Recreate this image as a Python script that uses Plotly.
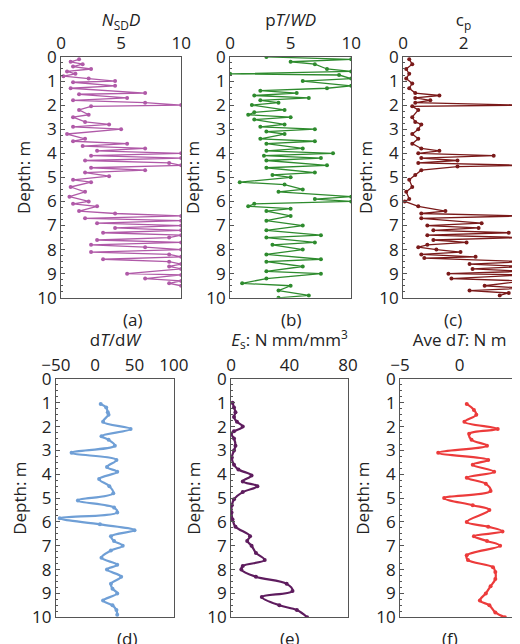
import plotly.graph_objects as go
from plotly.subplots import make_subplots

# (a) NSD D
a_depth = [0.1, 0.2, 0.3, 0.4, 0.5, 0.6, 0.7, 0.8, 0.9, 1.0, 1.05, 1.2, 1.3, 1.5, 1.55, 1.7, 1.8, 1.9, 2.0, 2.05,
           2.2, 2.4, 2.5, 2.7, 2.8, 2.9, 3.0, 3.2, 3.4, 3.5, 3.6, 3.7, 3.8, 3.9, 4.0, 4.1, 4.2, 4.3, 4.4, 4.5,
           4.6, 4.7, 4.8, 4.95, 5.1, 5.2, 5.4, 5.6, 5.8, 6.0, 6.1, 6.2, 6.4, 6.5, 6.6, 6.7, 6.8, 6.9, 7.0, 7.1,
           7.2, 7.3, 7.4, 7.5, 7.6, 7.7, 7.8, 7.9, 8.0, 8.1, 8.2, 8.3, 8.4, 8.5, 8.6, 8.7, 8.8, 9.0, 9.05, 9.2,
           9.3, 9.4, 9.5]
a_val = [1.5, 0.8, 1.8, 1.0, 2.5, 0.5, 1.2, 0.2, 2.3, 4.5, 1.0, 4.5, 0.8, 7.0, 1.5, 5.5, 1.0, 7.0, 10, 2.5,
         1.5, 2.3, 1.0, 2.0, 4.0, 1.0, 5.0, 0.5, 2.0, 1.0, 5.5, 1.8, 7.0, 3.0, 10, 2.5, 10, 2.0, 9.0, 10,
         2.5, 7.0, 2.0, 4.0, 1.0, 2.5, 0.8, 2.0, 0.7, 2.3, 1.0, 3.0, 1.5, 4.5, 10, 2.0, 10, 3.0, 10, 4.5,
         10, 3.5, 10, 9.0, 3.0, 10, 2.5, 7.0, 10, 2.5, 9.0, 10, 3.5, 9.0, 10, 9.0, 10, 5.5, 10, 7.0,
         10, 9.0, 10]

# (b) pT/WD
b_depth = [0.0, 0.1, 0.2, 0.3, 0.5, 0.6, 0.7, 0.75, 0.9, 1.0, 1.2, 1.3, 1.4, 1.5, 1.6, 1.7, 1.8, 1.9, 2.0, 2.2,
           2.3, 2.4, 2.5, 2.6, 2.8, 2.9, 3.0, 3.1, 3.2, 3.4, 3.5, 3.6, 3.8, 3.9, 4.0, 4.1, 4.2, 4.3, 4.5, 4.6,
           4.8, 4.9, 5.0, 5.2, 5.3, 5.5, 5.6, 5.8, 5.9, 6.0, 6.1, 6.2, 6.3, 6.4, 6.6, 6.8, 7.0, 7.2, 7.4, 7.5,
           7.7, 7.8, 8.0, 8.2, 8.4, 8.5, 8.7, 8.9, 9.0, 9.2, 9.4, 9.5, 9.7, 9.9, 10.0]
b_val = [3.0, 10, 5.0, 7.0, 8.0, 10, 0.0, 9.0, 10, 6.0, 10, 8.0, 2.5, 5.5, 2.0, 6.5, 2.5, 4.0, 1.8, 4.5,
         2.0, 1.5, 5.0, 2.0, 4.5, 2.5, 7.0, 3.0, 4.5, 2.5, 7.0, 3.0, 6.0, 3.0, 8.5, 2.8, 7.5, 3.0, 8.0, 3.0,
         7.0, 3.5, 5.0, 0.8, 4.5, 6.0, 4.0, 10, 7.0, 10, 2.0, 1.5, 5.0, 3.0, 5.0, 3.0, 6.0, 3.0, 7.5, 3.0,
         7.0, 3.5, 6.0, 3.0, 7.5, 3.0, 6.0, 3.0, 7.5, 3.0, 1.0, 5.0, 4.0, 6.5, 4.0]

# (c) cp
c_depth = [0.1, 0.3, 0.5, 0.7, 0.9, 1.1, 1.3, 1.5, 1.6, 1.7, 1.8, 1.9, 2.0, 2.05, 2.2, 2.5, 2.7, 2.8, 3.0, 3.2,
           3.4, 3.6, 3.8, 3.9, 4.0, 4.1, 4.2, 4.3, 4.4, 4.5, 4.55, 4.7, 4.9, 5.1, 5.4, 5.6, 5.9, 6.0, 6.2, 6.4,
           6.5, 6.6, 6.7, 6.9, 7.0, 7.1, 7.2, 7.3, 7.4, 7.5, 7.6, 7.7, 7.8, 7.9, 8.0, 8.1, 8.2, 8.3, 8.35, 8.5,
           8.6, 8.7, 8.8, 8.9, 9.0, 9.05, 9.2, 9.3, 9.5, 9.6, 9.7, 9.8, 9.9]
c_val = [0.2, 0.3, 0.1, 0.2, 0.1, 0.3, 0.2, 0.4, 1.2, 0.4, 0.9, 0.4, 4.0, 0.3, 0.5, 0.3, 0.4, 0.6, 0.5, 0.3,
         0.5, 0.3, 0.6, 1.2, 0.5, 3.0, 0.6, 1.8, 0.5, 4.0, 1.8, 0.6, 0.4, 0.2, 0.3, 0.1, 0.2, 0.05, 0.5, 1.4,
         0.6, 4.0, 0.6, 2.6, 0.8, 2.5, 1.0, 3.5, 0.8, 4.0, 1.0, 2.1, 0.8, 0.5, 1.1, 1.9, 0.6, 2.4, 0.7, 4.0,
         2.2, 4.0, 2.3, 4.0, 1.5, 4.0, 1.6, 4.0, 2.7, 4.0, 2.2, 3.5, 3.2]

# (d) dT/dW
d_depth = [1.05, 1.2, 1.4, 1.5, 1.8, 2.1, 2.4, 2.55, 2.8, 3.1, 3.4, 3.7, 3.9, 4.2, 4.5, 4.8, 5.1, 5.4, 5.6, 5.85,
           6.1, 6.35, 6.6, 6.8, 7.0, 7.2, 7.5, 7.8, 8.0, 8.3, 8.6, 8.8, 9.0, 9.3, 9.5, 9.7, 9.9]
d_val = [7, 14, 16, 17, 10, 45, 8, 17, 25, -30, 27, 15, 28, 5, 18, 23, -22, 24, 28, -45,
         6, 50, 20, 24, 35, 20, 8, 28, 15, 33, 20, 22, 28, 10, 22, 27, 28]

# (e) Es
e_depth = [1.0, 1.2, 1.4, 1.6, 1.8, 2.0, 2.2, 2.3, 2.5, 2.8, 3.0, 3.3, 3.6, 3.8, 4.05, 4.3, 4.5, 4.75, 5.05, 5.3,
           5.6, 5.9, 6.2, 6.6, 6.8, 7.0, 7.3, 7.6, 7.85, 8.0, 8.3, 8.6, 8.9, 9.15, 9.5, 9.7, 10.0]
e_val = [1, 2, 3, 2, 4, 8, 2, 0, 2, 3, 2, 0.5, 2, 5, 14, 8, 18, 8, 2, 0.5,
         0.3, 1, 3, 13, 11, 14, 17, 23, 8, 7, 17, 38, 42, 21, 33, 45, 52]

# (f) Ave dT
f_depth = [1.05, 1.3, 1.5, 1.8, 2.1, 2.3, 2.55, 2.8, 3.1, 3.4, 3.6, 3.9, 4.15, 4.4, 4.7, 5.0, 5.3, 5.5, 6.0, 6.2,
           6.4, 6.6, 6.8, 7.0, 7.4, 7.6, 7.9, 8.1, 8.4, 8.7, 9.0, 9.3, 9.5, 9.8, 10.0]
f_val = [0.6, 1.2, 1.4, 0.4, 3.2, 0.8, 1.0, 2.3, -1.8, 2.4, 1.1, 2.9, 0.6, 2.2, 2.6, -1.3, 1.1, 2.5, 0.6, 2.4,
         3.6, 1.2, 2.3, 3.4, 0.6, 0.7, 2.8, 3.0, 3.0, 2.6, 2.2, 1.7, 2.5, 3.0, 3.8]

panels = [
    (a_val, a_depth, "#b05aa8", "<i>N</i><sub>SD</sub><i>D</i>", [0, 10], [0, 5, 10], "(a)", "linear"),
    (b_val, b_depth, "#2e8b2e", "p<i>T</i>/<i>WD</i>", [0, 10], [0, 5, 10], "(b)", "linear"),
    (c_val, c_depth, "#7a1a1a", "c<sub>p</sub>", [0, 4], [0, 2, 4], "(c)", "linear"),
    (d_val, d_depth, "#6f9fd6", "d<i>T</i>/d<i>W</i>", [-50, 100], [-50, 0, 50, 100], "(d)", "spline"),
    (e_val, e_depth, "#5e1c5e", "<i>E</i><sub>s</sub>: N mm/mm<sup>3</sup>", [0, 80], [0, 40, 80], "(e)", "spline"),
    (f_val, f_depth, "#ec3b3b", "Ave d<i>T</i>: N m", [-5, 5], [-5, 0, 5], "(f)", "spline"),
]

xdoms = [[0.102, 0.333], [0.427, 0.660], [0.760, 0.992],
         [0.092, 0.319], [0.429, 0.654], [0.754, 0.983]]
ydoms = [[0.550, 0.924]] * 3 + [[0.054, 0.424]] * 3

fig = make_subplots(rows=2, cols=3)
font = dict(family="Open Sans, DejaVu Sans", size=17, color="#222")

for i, (xv, yv, col, title, rng, ticks, lab, shape) in enumerate(panels):
    r, c = i // 3 + 1, i % 3 + 1
    top = i < 3
    fig.add_trace(go.Scatter(x=xv, y=yv, mode="lines+markers",
                             line=dict(color=col, width=1.3 if top else 2.2, shape=shape),
                             marker=dict(color=col, size=4), cliponaxis=True,
                             showlegend=False), row=r, col=c)
    fig.update_xaxes(range=rng, tickvals=ticks, side="top", domain=xdoms[i], automargin=False,
                     title=dict(text=title, font=font, standoff=2),
                     showline=True, linecolor="#555", mirror=True, linewidth=1,
                     ticks="", showgrid=False, zeroline=False, tickfont=font, row=r, col=c)
    fig.update_yaxes(range=[10, 0], dtick=1, domain=ydoms[i], automargin=False,
                     title=dict(text="Depth: m", font=font, standoff=2),
                     showline=True, linecolor="#555", mirror=True, linewidth=1,
                     ticks="inside", ticklen=4, tickcolor="#555",
                     minor=dict(ticks="inside", ticklen=2, dtick=0.25, tickcolor="#555"),
                     showgrid=False, zeroline=False, tickfont=font, row=r, col=c)
    fig.add_annotation(text=lab, x=sum(xdoms[i]) / 2, y=ydoms[i][0], yshift=-8,
                       xref="paper", yref="paper", showarrow=False, font=font, yanchor="top")

fig.update_layout(width=520, height=644, margin=dict(l=0, r=0, t=0, b=0),
                  plot_bgcolor="white", paper_bgcolor="white")
fig.write_html("out.html")
